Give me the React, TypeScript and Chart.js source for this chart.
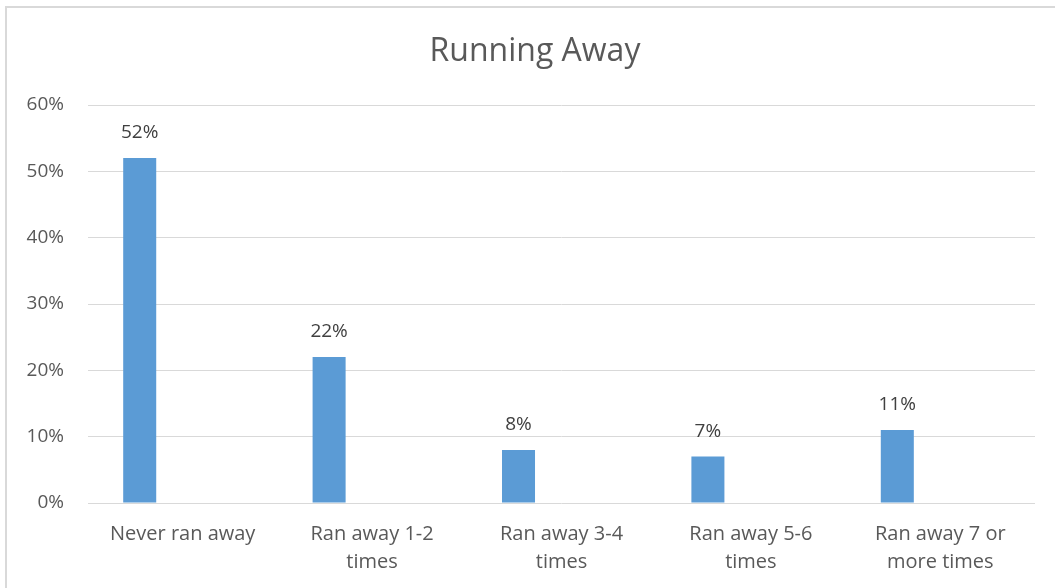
import React, { useEffect, useRef } from "react";
import { Chart, registerables } from "chart.js";

Chart.register(...registerables);

const categories: (string | string[])[] = [
  "Never ran away",
  ["Ran away 1-2", "times"],
  ["Ran away 3-4", "times"],
  ["Ran away 5-6", "times"],
  ["Ran away 7 or", "more times"],
];
const percentValues: number[] = [52, 22, 8, 7, 11];
const emptySeries: (number | null)[] = [null, null, null, null, null];
const yTicks: number[] = [0, 10, 20, 30, 40, 50, 60];
const chartTitle = "Running Away";

const FONT = "'Open Sans', 'Liberation Sans', sans-serif";

const dataLabelPlugin = {
  id: "dataLabels",
  afterDatasetsDraw(chart: any) {
    const ctx = chart.ctx;
    const meta = chart.getDatasetMeta(0);
    ctx.save();
    ctx.font = `19px ${FONT}`;
    ctx.fillStyle = "#404040";
    ctx.textAlign = "center";
    ctx.textBaseline = "middle";
    meta.data.forEach((bar: any, i: number) => {
      const v = percentValues[i];
      ctx.fillText(`${v}%`, bar.x, bar.y - 25);
    });
    ctx.restore();
  },
};

const titlePlugin = {
  id: "centeredTitle",
  afterDraw(chart: any) {
    const ctx = chart.ctx;
    ctx.save();
    ctx.font = `32px ${FONT}`;
    ctx.fillStyle = "#595959";
    ctx.textAlign = "center";
    ctx.textBaseline = "middle";
    ctx.fillText(chartTitle, 535, 52);
    ctx.restore();
  },
};

export default function App() {
  const ref = useRef<HTMLCanvasElement | null>(null);

  useEffect(() => {
    if (!ref.current) return;
    const chart = new Chart(ref.current, {
      type: "bar",
      data: {
        labels: categories,
        datasets: [
          {
            label: "Series 1",
            data: percentValues,
            backgroundColor: "#5b9bd5",
            categoryPercentage: 0.908,
            barPercentage: 0.384,
          },
          {
            label: "Series 2",
            data: emptySeries,
            backgroundColor: "#ed7d31",
            categoryPercentage: 0.908,
            barPercentage: 0.384,
          },
        ],
      },
      options: {
        animation: false,
        responsive: false,
        maintainAspectRatio: false,
        layout: { padding: { left: 0, right: 20, top: 105, bottom: 0 } },
        plugins: {
          legend: { display: false },
          tooltip: { enabled: false },
          title: { display: false },
        },
        scales: {
          x: {
            grid: { display: false, drawTicks: false },
            border: { display: false },
            ticks: {
              color: "#595959",
              font: { family: FONT, size: 20, lineHeight: 1.4 },
              padding: 17,
              maxRotation: 0,
              autoSkip: false,
            },
            afterFit(scale: any) {
              scale.height = 85;
            },
          },
          y: {
            min: 0,
            max: 60,
            afterBuildTicks(scale: any) {
              scale.ticks = yTicks.map((v) => ({ value: v }));
            },
            grid: { color: "#d9d9d9", lineWidth: 1, drawTicks: false },
            border: { display: false },
            ticks: {
              color: "#595959",
              font: { family: FONT, size: 19 },
              padding: 24,
              callback: (v: any) => `${v}%`,
            },
            afterFit(scale: any) {
              scale.width = 88;
            },
          },
        },
      },
      plugins: [dataLabelPlugin, titlePlugin],
    });
    return () => chart.destroy();
  }, []);

  return (
    <div style={{ position: "fixed", left: 0, top: 0, width: 1055, height: 588, background: "#fff", overflow: "hidden" }}>
      <div
        style={{
          position: "absolute",
          left: 5,
          top: 6,
          width: 1100,
          height: 640,
          borderLeft: "2px solid #d9d9d9",
          borderTop: "2px solid #d9d9d9",
        }}
      />
      <canvas ref={ref} width={1055} height={588} style={{ position: "absolute", left: 0, top: 0 }} />
    </div>
  );
}
